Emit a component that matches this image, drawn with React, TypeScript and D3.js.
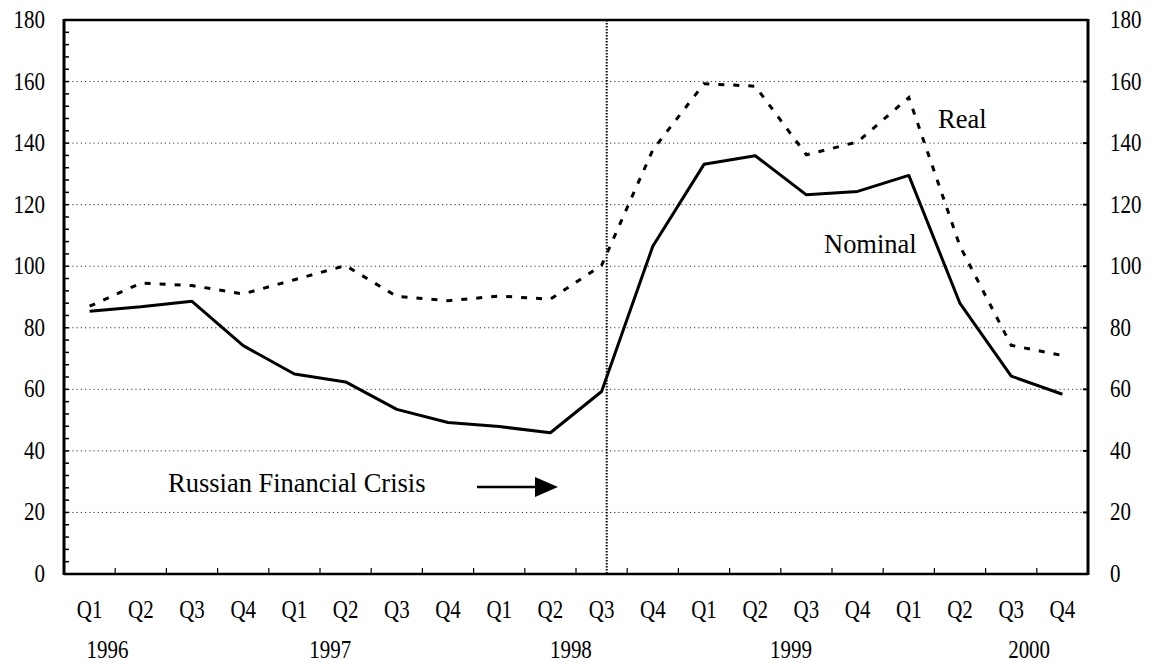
import React from "react";
import * as d3 from "d3";

const quarters = ["Q1","Q2","Q3","Q4","Q1","Q2","Q3","Q4","Q1","Q2","Q3","Q4","Q1","Q2","Q3","Q4","Q1","Q2","Q3","Q4"];
const nominal = [85.4, 86.8, 88.6, 74.2, 65.0, 62.4, 53.5, 49.2, 47.9, 45.9, 59.3, 106.5, 133.1, 135.9, 123.2, 124.3, 129.5, 87.9, 64.3, 58.4];
const real = [87.0, 94.5, 93.7, 91.0, 95.6, 100.2, 90.2, 88.8, 90.3, 89.3, 100.3, 137.8, 159.3, 158.5, 136.2, 140.4, 154.8, 106.5, 74.3, 71.0];
const years = ["1996", "1997", "1998", "1999", "2000"];
const yearPos = [0.85, 5.2, 9.9, 14.2, 18.85];
const yTicks = [0, 20, 40, 60, 80, 100, 120, 140, 160, 180];
const crisisPos = 10.6;

const W = 1151, H = 662;
const L = 64, R = 1088, T = 20, B = 574;
const FONT = "Liberation Serif, DejaVu Serif, serif";
const ts = (size: number) => ({ fontFamily: FONT, fontSize: size + "px", fill: "#000" });

function T2(props: { x: number; y: number; size: number; anchor?: string; sy?: number; children: React.ReactNode }) {
  const sy = props.sy ?? 1.15;
  return (
    <text transform={`translate(${props.x},${props.y}) scale(1,${sy})`} textAnchor={props.anchor || "start"} style={ts(props.size)}>
      {props.children}
    </text>
  );
}

export default function App() {
  const idx = quarters.map((_, i) => i);
  const xBand = d3.scaleBand<number>().domain(idx).range([L, R]).padding(0);
  const xLin = d3.scaleLinear().domain([0, quarters.length]).range([L, R]);
  const y = d3.scaleLinear().domain([0, 180]).range([B, T]);
  const cx = (i: number) => (xBand(i) as number) + xBand.bandwidth() / 2;
  const line = d3.line<number>().x((_, i) => cx(i)).y((d) => y(d));
  const minor = d3.range(0, 181, 4);

  return (
    <svg width={W} height={H} style={{ position: "absolute", left: 0, top: 0, background: "#fff" }}>
      {yTicks.filter((t) => t > 0 && t < 180).map((t) => (
        <line key={"g" + t} x1={L} x2={R} y1={y(t)} y2={y(t)} stroke="#333" strokeWidth={1} strokeDasharray="1.2 3" />
      ))}
      <line x1={xLin(crisisPos)} x2={xLin(crisisPos)} y1={T} y2={B} stroke="#000" strokeWidth={2} strokeDasharray="1.5 1.5" />
      <path d={line(real) || ""} fill="none" stroke="#000" strokeWidth={3} strokeDasharray="6 9" />
      <path d={line(nominal) || ""} fill="none" stroke="#000" strokeWidth={3} strokeLinejoin="round" />
      <line x1={L} x2={R} y1={T} y2={T} stroke="#000" strokeWidth={2.5} />
      <line x1={L} x2={R} y1={B} y2={B} stroke="#000" strokeWidth={2.5} />
      <line x1={L} x2={L} y1={T - 1} y2={B + 1} stroke="#000" strokeWidth={3} />
      <line x1={R} x2={R} y1={T - 1} y2={B + 1} stroke="#000" strokeWidth={3} />
      {minor.map((t) => (
        <line key={"m" + t} x1={L} x2={L + 5} y1={y(t)} y2={y(t)} stroke="#000" strokeWidth={1.5} />
      ))}
      {yTicks.map((t) => (
        <line key={"r" + t} x1={R - 5} x2={R} y1={y(t)} y2={y(t)} stroke="#000" strokeWidth={2} />
      ))}
      {idx.slice(1).map((i) => (
        <line key={"x" + i} x1={xBand(i) as number} x2={xBand(i) as number} y1={B} y2={B - 6} stroke="#000" strokeWidth={1.2} />
      ))}
      {yTicks.map((t) => (
        <g key={"yl" + t}>
          <T2 x={45} y={y(t) + 8} size={21} anchor="end">{t}</T2>
          <T2 x={1110} y={y(t) + 8} size={21}>{t}</T2>
        </g>
      ))}
      {quarters.map((q, i) => (
        <T2 key={"q" + i} x={cx(i)} y={618} size={21} anchor="middle">{q}</T2>
      ))}
      {years.map((yr, i) => (
        <T2 key={"y" + yr} x={xLin(yearPos[i])} y={658} size={21} anchor="middle">{yr}</T2>
      ))}
      <T2 x={938} y={128} size={26.5} sy={1.05}>Real</T2>
      <T2 x={824} y={253} size={26.5} sy={1.05}>Nominal</T2>
      <T2 x={168} y={492} size={26.5} sy={1.05}>Russian Financial Crisis</T2>
      <line x1={477} x2={538} y1={487} y2={487} stroke="#000" strokeWidth={2.5} />
      <polygon points="535,477 558,487 535,497" fill="#000" />
    </svg>
  );
}
